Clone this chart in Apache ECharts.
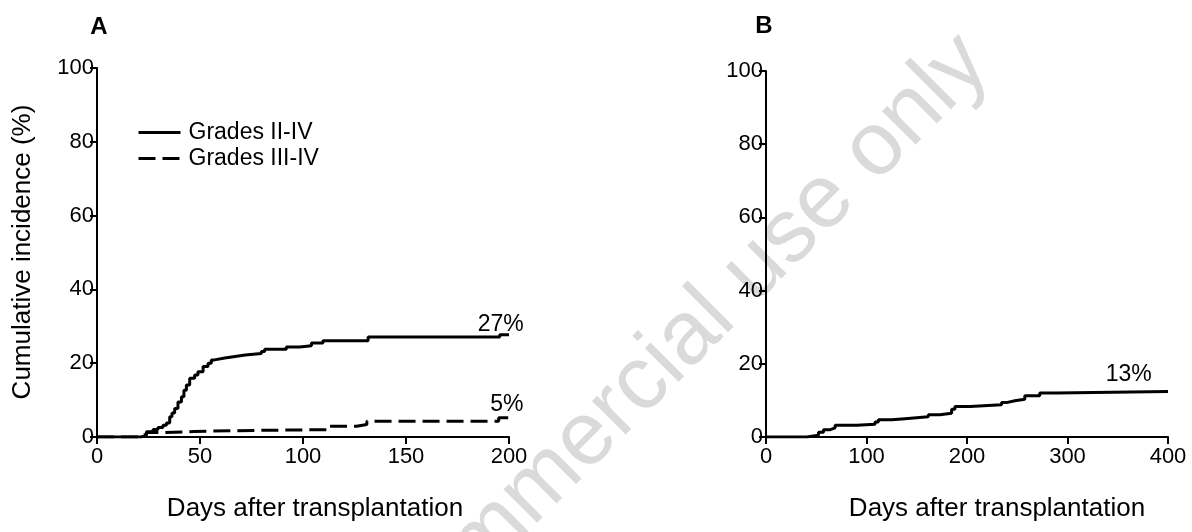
<!DOCTYPE html>
<html>
<head>
<meta charset="utf-8">
<script src="https://cdn.jsdelivr.net/npm/echarts@6.0.0/dist/echarts.min.js"></script>
<style>
  html, body { margin: 0; padding: 0; background: #fff; }
  #chart { width: 1192px; height: 532px; }
</style>
</head>
<body>
<div id="chart"></div>
<script>
// panel A: acute GVHD, days 0-200
var daysA24 = [0, 21.5, 22.3, 24, 27.2, 29.6, 32, 33.7, 35.3, 36.4, 37.7, 39.3, 41, 42.2, 43.4, 45, 47.4, 49, 51.5, 53.9, 55.5, 57.1, 62, 67, 72, 79.8, 81.4, 91.9, 98.4, 104.1, 109.7, 131.6, 195.5, 200];
var incA24 = [0, 0, 0.5, 1.4, 2.0, 2.6, 3.2, 3.8, 5.5, 6.5, 7.7, 9.5, 10.9, 12.7, 14.1, 15.9, 16.8, 17.7, 19.1, 20.0, 20.9, 21.4, 21.8, 22.2, 22.6, 23.2, 23.8, 24.4, 24.7, 25.5, 26.1, 27.1, 27.7, 27.7];
var daysA34 = [0, 22, 22.5, 24, 33, 47, 77, 112, 126, 131, 195, 200];
var incA34 = [0, 0, 0.6, 1.2, 1.5, 1.8, 2.0, 2.9, 3.4, 4.3, 5.2, 5.2];

// panel B: chronic GVHD, days 0-400
var daysB = [0, 40.7, 42.3, 52.2, 57.2, 63.9, 68.8, 90.4, 108.5, 111.8, 125.1, 138.3, 161.5, 173.1, 184.7, 188, 203, 234.4, 239.3, 247.6, 257.5, 272.4, 289, 400];
var incB = [0, 0, 0.5, 1.3, 2.0, 2.5, 3.2, 3.5, 4.1, 4.7, 5.0, 5.5, 6.1, 6.5, 7.6, 8.3, 8.8, 9.4, 9.9, 10.3, 11.3, 12.0, 12.4, 12.4];

var yTicks = [0, 20, 40, 60, 80, 100];
var xTicksA = [0, 50, 100, 150, 200];
var xTicksB = [0, 100, 200, 300, 400];

var seriesNames = ['Grades II-IV', 'Grades III-IV'];
// end-of-curve labels: [grid, day, value, text]
var endLabels = [[0, 196, 30.5, '27%'], [0, 199, 8.7, '5%'], [1, 361, 17.0, '13%']];

function pairs(xs, ys) {
  return xs.map(function (x, i) { return [x, ys[i]]; });
}

var FONT = '"Liberation Sans", Arial, sans-serif';
var black = '#000';
var dash = [17, 7];

function valueAxis(grid, ticks, margin) {
  return {
    type: 'value',
    gridIndex: grid,
    min: ticks[0],
    max: ticks[ticks.length - 1],
    interval: ticks[1] - ticks[0],
    axisLine: { show: true, onZero: false, lineStyle: { color: black, width: 2 } },
    axisTick: { show: true, length: 7, lineStyle: { color: black, width: 2 } },
    axisLabel: { color: black, fontSize: 22, fontFamily: FONT, margin: margin },
    splitLine: { show: false }
  };
}

function kmLine(name, x, y, xi, dashed) {
  return {
    name: name,
    type: 'line',
    xAxisIndex: xi,
    yAxisIndex: xi,
    step: 'end',
    symbol: 'none',
    z: 5,
    data: pairs(x, y),
    lineStyle: { color: black, width: 3, type: dashed ? dash : 'solid' },
    itemStyle: { color: black }
  };
}

var myChart = echarts.init(document.getElementById('chart'));

var option = {
  animation: false,
  backgroundColor: '#fff',
  textStyle: { fontFamily: FONT },
  grid: [
    { left: 97, top: 68, width: 412, height: 369 },
    { left: 766, top: 71, width: 402, height: 366 }
  ],
  xAxis: [
    valueAxis(0, xTicksA, 9),
    valueAxis(1, xTicksB, 9)
  ],
  yAxis: [
    valueAxis(0, yTicks, 3),
    valueAxis(1, yTicks, 3)
  ],
  legend: {
    data: seriesNames,
    orient: 'vertical',
    left: 137,
    top: 121,
    padding: 0,
    itemWidth: 42,
    itemHeight: 14,
    itemGap: 3,
    itemStyle: { opacity: 0 },
    lineStyle: { width: 3 },
    textStyle: { color: black, fontSize: 23, fontFamily: FONT, padding: [0, 0, 0, 3] }
  },
  series: [
    kmLine(seriesNames[0], daysA24, incA24, 0, false),
    kmLine(seriesNames[1], daysA34, incA34, 0, true),
    kmLine('cGVHD', daysB, incB, 1, false)
  ]
};
myChart.setOption(option);

// texts: panel letters, axis titles, watermark, end labels
var graphics = [
  { type: 'text', x: 975, y: 50, rotation: Math.PI / 4, z: -10, silent: true,
    style: { text: 'Non-commercial use only', fill: '#dadada', fontSize: 90, fontFamily: FONT, align: 'right', verticalAlign: 'middle' } },
  { type: 'text', x: 99, y: 27, style: { text: 'A', fill: black, fontSize: 24, fontWeight: 'bold', fontFamily: FONT, align: 'center', verticalAlign: 'middle' } },
  { type: 'text', x: 764, y: 26, style: { text: 'B', fill: black, fontSize: 24, fontWeight: 'bold', fontFamily: FONT, align: 'center', verticalAlign: 'middle' } },
  { type: 'text', x: 23, y: 252, rotation: Math.PI / 2,
    style: { text: 'Cumulative incidence (%)', fill: black, fontSize: 26, fontFamily: FONT, align: 'center', verticalAlign: 'middle' } },
  { type: 'text', x: 315, y: 509, style: { text: 'Days after transplantation', fill: black, fontSize: 26, fontFamily: FONT, align: 'center', verticalAlign: 'middle' } },
  { type: 'text', x: 997, y: 509, style: { text: 'Days after transplantation', fill: black, fontSize: 26, fontFamily: FONT, align: 'center', verticalAlign: 'middle' } }
];
endLabels.forEach(function (l) {
  var p = myChart.convertToPixel({ gridIndex: l[0] }, [l[1], l[2]]);
  graphics.push({ type: 'text', x: p[0], y: p[1], z: 10,
    style: { text: l[3], fill: black, fontSize: 23, fontFamily: FONT, align: 'center', verticalAlign: 'middle' } });
});
myChart.setOption({ graphic: graphics });

window.addEventListener('resize', function () { myChart.resize(); });
</script>
</body>
</html>
